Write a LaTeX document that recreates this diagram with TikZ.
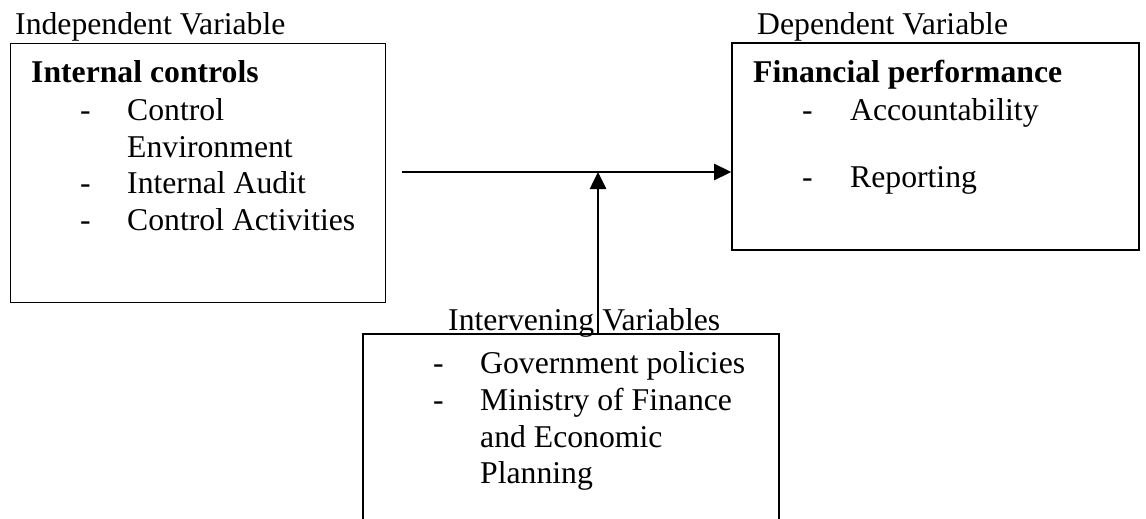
\documentclass[tikz,border=0pt]{standalone}
\usepackage{fontspec}
\setmainfont{Liberation Serif}
\usetikzlibrary{arrows.meta}
\begin{document}
\begin{tikzpicture}[x=1pt,y=-1pt,
  box/.style={draw,line width=1.6pt,inner sep=0pt},
  txt/.style={anchor=base west,inner sep=0pt,font=\fontsize{31.7}{36.7}\selectfont},
  btxt/.style={txt,font=\fontsize{31.7}{36.7}\selectfont\bfseries},
  arr/.style={line width=2.6pt,-{Triangle[length=17pt,width=16pt]}}]
\useasboundingbox (0,0) rectangle (1146,519);
% boxes
\node[box,minimum width=375pt,minimum height=259pt] (left) at (198,173) {};
\node[box,minimum width=407pt,minimum height=207pt] (right) at (935.5,146.5) {};
\node[box,minimum width=416pt,minimum height=220pt] (bottom) at (571,444) {};
% titles
\node[txt] (tin) at (15,35) {Independent Variable};
\node[txt] (tdep) at (757,35) {Dependent Variable};
% left box content
\node[btxt] (lh) at (31,83) {Internal controls};
\node[txt] (ld1) at (80,120) {-};
\node[txt] (l1) at (127,120) {Control};
\node[txt] (l1b) at (127,157) {Environment};
\node[txt] (ld2) at (80,193) {-};
\node[txt] (l2) at (127,193) {Internal Audit};
\node[txt] (ld3) at (80,230) {-};
\node[txt] (l3) at (127,230) {Control Activities};
% right box content
\node[btxt] (rh) at (753,82) {Financial performance};
\node[txt] (rd1) at (802,120) {-};
\node[txt] (r1) at (850,120) {Accountability};
\node[txt] (rd2) at (802,187) {-};
\node[txt] (r2) at (850,187) {Reporting};
% bottom box
\node[txt] (tint) at (448,330) {Intervening Variables};
\node[txt] (bd1) at (433,373) {-};
\node[txt] (b1) at (480,373) {Government policies};
\node[txt] (bd2) at (433,410) {-};
\node[txt] (b2) at (480,410) {Ministry of Finance};
\node[txt] (b2b) at (480,447) {and Economic};
\node[txt] (b2c) at (480,483) {Planning};
% arrows
\coordinate (hs) at (402,172);
\coordinate (meet) at (598,172);
\draw[arr] (hs) -- (right.west |- hs);
\draw[arr] (bottom.north -| meet) -- (meet);
\end{tikzpicture}
\end{document}
